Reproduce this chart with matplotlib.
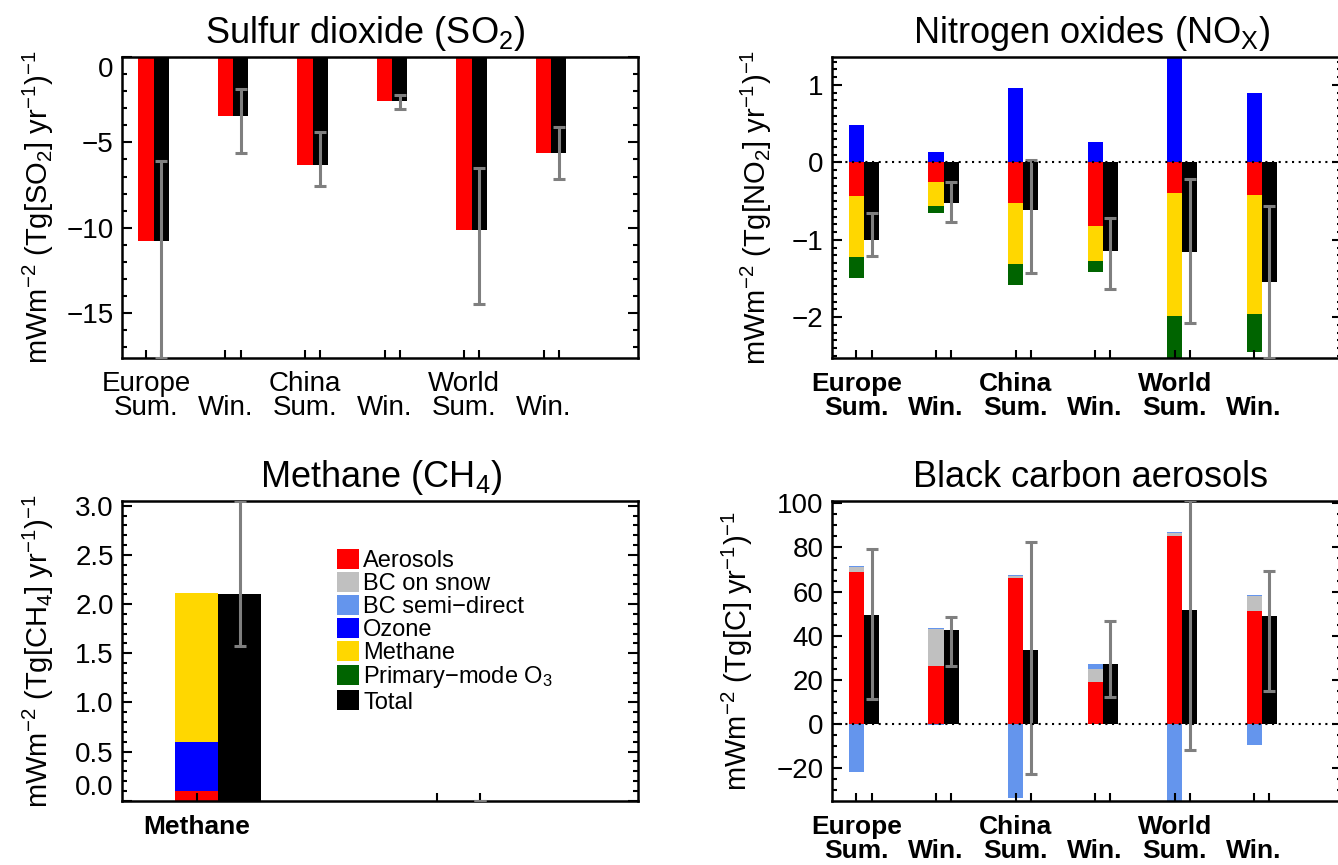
import numpy as np
import matplotlib
matplotlib.use('Agg')
import matplotlib.pyplot as plt
from matplotlib.ticker import MultipleLocator, FuncFormatter
from matplotlib.patches import Patch

plt.rcParams['font.family'] = ['Liberation Sans', 'DejaVu Sans']
plt.rcParams['mathtext.fontset'] = 'custom'
plt.rcParams['mathtext.rm'] = 'Liberation Sans'
plt.rcParams['mathtext.it'] = 'Liberation Sans:italic'
plt.rcParams['mathtext.bf'] = 'Liberation Sans:bold'

# categories
regions = ['Europe', 'China', 'World']
seasons = ['Sum.', 'Win.', 'Sum.', 'Win.', 'Sum.', 'Win.']

# Sulfur dioxide
so2_aerosols = [-10.75, -3.48, -6.35, -2.60, -10.16, -5.64]
so2_total = [-10.75, -3.48, -6.35, -2.60, -10.16, -5.64]
so2_err_hi = [-6.07, -1.89, -4.39, -2.20, -6.50, -4.12]
so2_err_lo = [-17.6, -5.64, -7.56, -3.07, -14.45, -7.13]

# Nitrogen oxides
nox_aerosols = [-0.43, -0.25, -0.52, -0.82, -0.39, -0.42]
nox_ozone = [0.48, 0.13, 0.96, 0.26, 1.45, 0.90]
nox_methane = [-0.79, -0.31, -0.79, -0.45, -1.59, -1.54]
nox_primary = [-0.27, -0.10, -0.27, -0.15, -0.65, -0.49]
nox_total = [-1.00, -0.52, -0.62, -1.15, -1.16, -1.55]
nox_err_hi = [-0.65, -0.26, 0.03, -0.72, -0.22, -0.56]
nox_err_lo = [-1.21, -0.77, -1.43, -1.63, -2.08, -2.52]

# Methane
ch4_names = ['Methane', '']
ch4_aerosols = [0.10, 0.0]
ch4_ozone = [0.50, 0.0]
ch4_methane = [1.51, 0.0]
ch4_total = [2.10, 0.0]
ch4_err_hi = [3.05, 0.0]
ch4_err_lo = [1.57, 0.0]

# Black carbon
bc_aerosols = [68.9, 26.3, 66.2, 19.0, 85.2, 51.1]
bc_snow = [2.4, 16.8, 0.9, 5.8, 1.4, 7.1]
bc_semi_pos = [0.3, 0.3, 0.3, 2.2, 0.3, 0.3]
bc_semi_neg = [-22.0, -0.5, -33.8, 0.0, -36.0, -9.4]
bc_total = [49.4, 42.4, 33.4, 27.0, 51.5, 48.8]
bc_err_hi = [79.2, 48.3, 82.3, 46.7, 101.5, 69.2]
bc_err_lo = [11.2, 26.4, -22.8, 12.2, -11.9, 15.1]

c_aer = '#ff0000'
c_snow = '#c0c0c0'
c_semi = '#6495ed'
c_ozone = '#0000ff'
c_meth = '#ffd700'
c_prim = '#006400'
c_tot = '#000000'
c_err = '#7f7f7f'

W = 0.19


def stacked(ax, x, parts, w):
	pos = np.zeros(len(x))
	neg = np.zeros(len(x))
	for vals, col in parts:
		vals = np.asarray(vals, float)
		base = np.where(vals >= 0, pos, neg)
		ax.bar(x - w, vals, w, bottom=base, color=col, align='edge', linewidth=0)
		pos = pos + np.clip(vals, 0, None)
		neg = neg + np.clip(vals, None, 0)


def total_bar(ax, x, total, lo, hi, w):
	total = np.asarray(total, float)
	ax.bar(x, total, w, color=c_tot, align='edge', linewidth=0)
	yerr = [np.abs(total - np.asarray(lo)), np.abs(np.asarray(hi) - total)]
	ax.errorbar(x + w / 2, total, yerr=yerr, fmt='none', ecolor=c_err,
		elinewidth=2.2, capsize=4.5, capthick=2.2, zorder=5)


def setup(ax, x, w, xlim, ylim, major, minor, fmt):
	ax.set_xlim(xlim)
	ax.set_ylim(ylim)
	ax.yaxis.set_major_locator(MultipleLocator(major))
	ax.yaxis.set_minor_locator(MultipleLocator(minor))
	ax.yaxis.set_major_formatter(FuncFormatter(lambda v, p: (fmt % v).replace('-', '\u2212')))
	ax.set_xticks(np.ravel([[i - w / 2, i + w / 2] for i in x]))
	ax.tick_params(axis='y', which='both', direction='in', left=True, right=True,
		labelsize=20, width=1.5, pad=6)
	ax.tick_params(axis='y', which='major', length=7)
	ax.tick_params(axis='y', which='minor', length=3.5)
	ax.tick_params(axis='x', which='major', direction='in', length=6, width=1.5,
		labelbottom=False, top=False)
	for s in ax.spines.values():
		s.set_linewidth(1.8)


def cat_labels(ax, x, w, names, bold):
	tr = matplotlib.transforms.blended_transform_factory(ax.transData, ax.transAxes)
	kw = dict(fontsize=19, fontweight='bold') if bold else dict(fontsize=20)
	for k, i in enumerate(x):
		if k % 2 == 0:
			ax.text(i - w / 2, -0.087, regions[k // 2], transform=tr, ha='center', va='center', **kw)
		ax.text(i - w / 2, -0.167, seasons[k], transform=tr, ha='center', va='center', **kw)


def zero_line(ax):
	ax.axhline(0, color='k', lw=1.5, linestyle=(0, (1, 2.2)), zorder=6)


fig = plt.figure(figsize=(13.38, 8.65), dpi=100)
ax1 = fig.add_axes([0.0912, 0.5867, 0.3857, 0.3474])
ax2 = fig.add_axes([0.6218, 0.5867, 0.3812, 0.3474])
ax3 = fig.add_axes([0.0912, 0.0743, 0.3857, 0.3468])
ax4 = fig.add_axes([0.6218, 0.0743, 0.3812, 0.3468])

x6 = np.arange(1, 7, dtype=float)
x2 = np.arange(1, 3, dtype=float)

# SO2
stacked(ax1, x6, [(so2_aerosols, c_aer)], W)
total_bar(ax1, x6, so2_total, so2_err_lo, so2_err_hi, W)
zero_line(ax1)
setup(ax1, x6, W, (0.604, 7.094), (-17.6, 0), 5, 1, '%d')
cat_labels(ax1, x6, W, regions, False)
ax1.set_title('Sulfur dioxide (SO$_2$)', fontsize=26, pad=10, x=0.471)
ax1.set_ylabel(r'mWm$^{-2}$ (Tg[SO$_2$] yr$^{-1}$)$^{-1}$', fontsize=21)
ax1.yaxis.set_label_coords(-0.128, 0.5)

# NOx
stacked(ax2, x6, [(nox_aerosols, c_aer), (nox_ozone, c_ozone),
	(nox_methane, c_meth), (nox_primary, c_prim)], W)
total_bar(ax2, x6, nox_total, nox_err_lo, nox_err_hi, W)
zero_line(ax2)
setup(ax2, x6, W, (0.597, 7.01), (-2.52, 1.36), 1, 0.1, '%d')
cat_labels(ax2, x6, W, regions, True)
ax2.set_title('Nitrogen oxides (NO$_\\mathrm{X}$)', fontsize=26, pad=10, x=0.51)
ax2.set_ylabel(r'mWm$^{-2}$ (Tg[NO$_2$] yr$^{-1}$)$^{-1}$', fontsize=21)
ax2.yaxis.set_label_coords(-0.114, 0.5)

# CH4
W2 = 0.179
stacked(ax3, x2, [(ch4_aerosols, c_aer), (ch4_ozone, c_ozone), (ch4_methane, c_meth)], W2)
total_bar(ax3, x2, ch4_total, ch4_err_lo, ch4_err_hi, W2)
setup(ax3, x2, W2, (0.6, 2.75), (0, 3.05), 0.5, 0.1, '%.1f')
tr3 = matplotlib.transforms.blended_transform_factory(ax3.transData, ax3.transAxes)
for i, name in zip(x2, ch4_names):
	ax3.text(i - W2 / 2, -0.087, name, transform=tr3, ha='center', va='center',
		fontsize=19, fontweight='bold')
ax3.set_title('Methane (CH$_4$)', fontsize=26, pad=10, x=0.502)
ax3.set_ylabel(r'mWm$^{-2}$ (Tg[CH$_4$] yr$^{-1}$)$^{-1}$', fontsize=21)
ax3.yaxis.set_label_coords(-0.128, 0.5)

leg_items = [('Aerosols', c_aer), ('BC on snow', c_snow), ('BC semi\u2212direct', c_semi),
	('Ozone', c_ozone), ('Methane', c_meth), ('Primary\u2212mode O$_3$', c_prim), ('Total', c_tot)]
handles = [Patch(facecolor=c, edgecolor='none', label=l) for l, c in leg_items]
ax3.legend(handles=handles, loc='upper left', bbox_to_anchor=(0.417, 0.839), frameon=False,
	fontsize=17, borderpad=0, borderaxespad=0, handlelength=0.92, handleheight=0.92,
	handletextpad=0.18, labelspacing=0.0)

# BC
stacked(ax4, x6, [(bc_aerosols, c_aer), (bc_snow, c_snow),
	(bc_semi_pos, c_semi), (bc_semi_neg, c_semi)], W)
total_bar(ax4, x6, bc_total, bc_err_lo, bc_err_hi, W)
zero_line(ax4)
setup(ax4, x6, W, (0.597, 7.01), (-34.9, 101.2), 20, 5, '%d')
cat_labels(ax4, x6, W, regions, True)
ax4.set_title('Black carbon aerosols', fontsize=26, pad=10, x=0.506)
ax4.set_ylabel(r'mWm$^{-2}$ (Tg[C] yr$^{-1}$)$^{-1}$', fontsize=21)
ax4.yaxis.set_label_coords(-0.151, 0.5)

fig.canvas.draw()
for t in ax1.yaxis.get_major_ticks():
	if abs(t.get_loc()) < 1e-9:
		t.label1.set_verticalalignment('top')
for t in ax3.yaxis.get_major_ticks():
	if abs(t.get_loc()) < 1e-9:
		t.label1.set_verticalalignment('bottom')

fig.savefig('out.png', dpi=100)
